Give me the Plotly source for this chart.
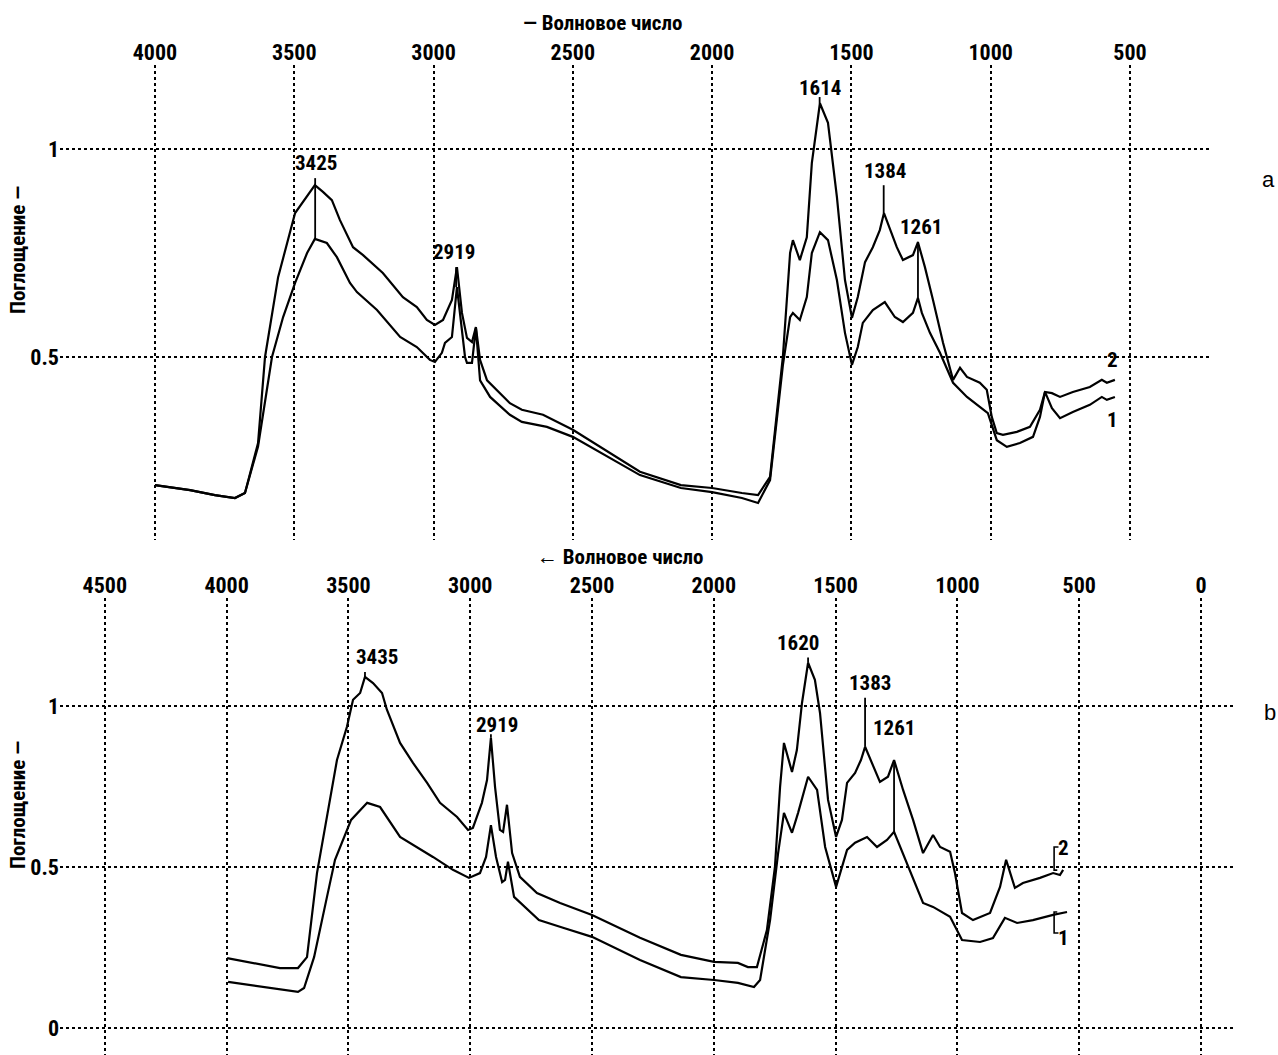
import plotly.graph_objects as go

# ---------------- data: panel a ----------------
a_wn_2 = [4000, 3874, 3785, 3713, 3677, 3630, 3605, 3558, 3497, 3426, 3397, 3365, 3336, 3289, 3253,
          3182, 3110, 3060, 3024, 2995, 2966, 2934, 2916, 2898, 2880, 2862, 2848, 2833, 2808, 2726,
          2683, 2607, 2500, 2259, 2112, 2000, 1893, 1835, 1792, 1746, 1720, 1710, 1685, 1660, 1642,
          1613, 1584, 1552, 1523, 1498, 1477, 1451, 1423, 1398, 1383, 1369, 1337, 1315, 1279, 1261,
          1236, 1207, 1171, 1135, 1110, 1085, 1039, 1014, 996, 978, 956, 906, 859, 823, 805, 780,
          751, 705, 644, 601, 583, 554]
a_abs_2 = [0.192, 0.180, 0.168, 0.161, 0.173, 0.293, 0.500, 0.692, 0.846, 0.913, 0.897, 0.877, 0.829, 0.764, 0.745,
           0.702, 0.644, 0.620, 0.589, 0.577, 0.589, 0.637, 0.716, 0.606, 0.546, 0.536, 0.572, 0.493, 0.444, 0.389,
           0.373, 0.361, 0.325, 0.224, 0.192, 0.185, 0.173, 0.168, 0.212, 0.500, 0.750, 0.781, 0.733, 0.788, 0.966,
           1.110, 1.063, 0.885, 0.685, 0.594, 0.644, 0.728, 0.764, 0.805, 0.846, 0.822, 0.764, 0.733, 0.745, 0.776,
           0.716, 0.637, 0.534, 0.445, 0.474, 0.452, 0.438, 0.421, 0.356, 0.317, 0.313, 0.320, 0.332, 0.373, 0.416, 0.413,
           0.404, 0.416, 0.428, 0.445, 0.438, 0.445]

a_wn_1 = [4000, 3874, 3785, 3713, 3677, 3630, 3580, 3540, 3497, 3454, 3426, 3383, 3347, 3300, 3275,
          3203, 3120, 3060, 3013, 2995, 2970, 2959, 2934, 2916, 2887, 2880, 2862, 2848, 2833, 2797,
          2726, 2683, 2593, 2500, 2259, 2112, 2000, 1893, 1835, 1792, 1746, 1720, 1710, 1685, 1660,
          1642, 1613, 1584, 1552, 1523, 1498, 1477, 1459, 1423, 1380, 1344, 1315, 1279, 1261, 1247,
          1218, 1182, 1135, 1085, 1039, 1010, 978, 942, 895, 848, 823, 805, 780, 751, 705, 644, 601,
          583, 554]
a_abs_1 = [0.192, 0.180, 0.168, 0.161, 0.173, 0.285, 0.500, 0.596, 0.678, 0.750, 0.784, 0.774, 0.740, 0.678, 0.656,
           0.613, 0.548, 0.524, 0.493, 0.488, 0.510, 0.534, 0.548, 0.668, 0.500, 0.486, 0.486, 0.570, 0.444, 0.404,
           0.361, 0.344, 0.332, 0.308, 0.216, 0.185, 0.175, 0.161, 0.149, 0.204, 0.480, 0.596, 0.606, 0.589, 0.644,
           0.750, 0.800, 0.781, 0.685, 0.558, 0.481, 0.524, 0.582, 0.613, 0.632, 0.596, 0.584, 0.606, 0.642, 0.606,
           0.558, 0.510, 0.438, 0.404, 0.380, 0.365, 0.300, 0.284, 0.293, 0.308, 0.356, 0.416, 0.377, 0.353, 0.368, 0.385, 0.404,
           0.397, 0.404]

a_peak_labels = ["3425", "2919", "1614", "1384", "1261"]
a_peak_wn = [3425, 2919, 1614, 1384, 1261]
a_label_x = [3422, 2927, 1614, 1380, 1250]
a_label_y = [0.966, 0.752, 1.147, 0.947, 0.813]
a_mark_top = [0.930, 0.716, 1.125, 0.913, 0.777]
a_mark_bot = [0.784, 0.668, 1.110, 0.846, 0.642]

# ---------------- data: panel b ----------------
b_wn_2 = [3998, 3892, 3781, 3707, 3670, 3629, 3588, 3547, 3506, 3481, 3452, 3432, 3399, 3362, 3342,
          3288, 3235, 3177, 3124, 3054, 3009, 2989, 2952, 2931, 2915, 2898, 2878, 2865, 2849, 2828,
          2796, 2726, 2631, 2500, 2303, 2135, 1999, 1901, 1860, 1823, 1782, 1749, 1728, 1712, 1679,
          1659, 1638, 1613, 1585, 1564, 1531, 1498, 1474, 1453, 1420, 1396, 1379, 1346, 1318,
          1285, 1260, 1223, 1182, 1141, 1100, 1071, 1030, 1010, 981, 936, 866, 825, 800, 764, 731,
          661, 607, 579, 566]
b_abs_2 = [0.217, 0.202, 0.186, 0.186, 0.220, 0.481, 0.655, 0.832, 0.935, 1.019, 1.040, 1.090, 1.071, 1.040, 0.988,
           0.885, 0.823, 0.761, 0.699, 0.655, 0.615, 0.621, 0.699, 0.770, 0.901, 0.748, 0.615, 0.609, 0.693, 0.543,
           0.469, 0.419, 0.388, 0.351, 0.280, 0.227, 0.205, 0.202, 0.189, 0.189, 0.304, 0.500, 0.748, 0.885, 0.795,
           0.863, 1.009, 1.134, 1.081, 0.978, 0.708, 0.593, 0.646, 0.761, 0.792, 0.832, 0.873, 0.811, 0.764,
           0.780, 0.832, 0.739, 0.646, 0.543, 0.599, 0.562, 0.547, 0.481, 0.357, 0.335, 0.357, 0.438, 0.522, 0.435, 0.450,
           0.466, 0.481, 0.475, 0.491]

b_wn_1 = [3994, 3842, 3707, 3682, 3641, 3588, 3555, 3489, 3423, 3370, 3288, 3153, 3071, 3005, 2960,
          2935, 2915, 2894, 2869, 2857, 2845, 2820, 2718, 2619, 2500, 2303, 2135, 1999, 1901, 1835,
          1810, 1769, 1736, 1712, 1679, 1654, 1613, 1576, 1543, 1498, 1474, 1453, 1420, 1371, 1330,
          1289, 1260, 1207, 1141, 1100, 1030, 981, 907, 854, 805, 755, 690, 607, 550]
b_abs_1 = [0.143, 0.127, 0.112, 0.124, 0.220, 0.407, 0.522, 0.646, 0.699, 0.686, 0.593, 0.531, 0.491, 0.466, 0.481,
           0.531, 0.630, 0.531, 0.453, 0.460, 0.516, 0.407, 0.335, 0.311, 0.283, 0.211, 0.158, 0.149, 0.140, 0.127,
           0.149, 0.335, 0.543, 0.668, 0.606, 0.668, 0.780, 0.739, 0.562, 0.438, 0.500, 0.553, 0.575, 0.593, 0.562,
           0.584, 0.609, 0.512, 0.388, 0.376, 0.345, 0.273, 0.267, 0.279, 0.342, 0.326, 0.335, 0.351, 0.360]

b_peak_labels = ["3435", "2919", "1620", "1383", "1261"]
b_peak_wn = [3432, 2915, 1613, 1379, 1260]
b_label_x = [3383, 2890, 1654, 1359, 1260]
b_label_y = [1.152, 0.941, 1.196, 1.071, 0.932]
b_mark_top = [1.105, 0.912, 1.150, 1.025, 0.832]
b_mark_bot = [1.090, 0.901, 1.134, 0.873, 0.609]

x_ticks_a = [4000, 3500, 3000, 2500, 2000, 1500, 1000, 500]
x_ticks_b = [4500, 4000, 3500, 3000, 2500, 2000, 1500, 1000, 500, 0]
y_ticks_a = [0.5, 1]
y_ticks_b = [0, 0.5, 1]

curve_names = ["2", "1"]
x_title_a = "— Волновое число"
x_title_b = "← Волновое число"
y_title = "Поглощение —"

# ---------------- figure ----------------
W, H = 1278, 1055
NARROW = "Liberation Sans Narrow, Arial Narrow, Roboto Condensed, Liberation Sans, sans-serif"
LINE = dict(color="black", width=2.2)

fig = go.Figure()
fig.add_trace(go.Scatter(x=a_wn_2, y=a_abs_2, mode="lines", line=LINE, xaxis="x", yaxis="y", name="2"))
fig.add_trace(go.Scatter(x=a_wn_1, y=a_abs_1, mode="lines", line=LINE, xaxis="x", yaxis="y", name="1"))
fig.add_trace(go.Scatter(x=b_wn_2, y=b_abs_2, mode="lines", line=LINE, xaxis="x2", yaxis="y2", name="2"))
fig.add_trace(go.Scatter(x=b_wn_1, y=b_abs_1, mode="lines", line=LINE, xaxis="x2", yaxis="y2", name="1"))

# peak marker lines
for wn, t, b in zip(a_peak_wn, a_mark_top, a_mark_bot):
    fig.add_trace(go.Scatter(x=[wn, wn], y=[b, t], mode="lines", line=dict(color="black", width=1.8),
                             xaxis="x", yaxis="y", hoverinfo="skip"))
for wn, t, b in zip(b_peak_wn, b_mark_top, b_mark_bot):
    fig.add_trace(go.Scatter(x=[wn, wn], y=[b, t], mode="lines", line=dict(color="black", width=1.8),
                             xaxis="x2", yaxis="y2", hoverinfo="skip"))

# curve brackets in panel b
fig.add_trace(go.Scatter(x=[590, 603, 603, 585], y=[0.49, 0.49, 0.562, 0.562], mode="lines",
                         line=dict(color="black", width=1.6), xaxis="x2", yaxis="y2", hoverinfo="skip"))
fig.add_trace(go.Scatter(x=[590, 603, 603, 585], y=[0.36, 0.36, 0.295, 0.295], mode="lines",
                         line=dict(color="black", width=1.6), xaxis="x2", yaxis="y2", hoverinfo="skip"))

ann = []
lab_font = dict(family=NARROW, size=21, color="black", weight="bold")
tick_font = dict(family=NARROW, size=22, color="black", weight="bold")
for t, x, y in zip(a_peak_labels, a_label_x, a_label_y):
    ann.append(dict(x=x, y=y, xref="x", yref="y", text=t, showarrow=False, font=lab_font))
for t, x, y in zip(b_peak_labels, b_label_x, b_label_y):
    ann.append(dict(x=x, y=y, xref="x2", yref="y2", text=t, showarrow=False, font=lab_font))

# curve numbers
ann.append(dict(x=561, y=0.493, xref="x", yref="y", text=curve_names[0], showarrow=False, font=lab_font))
ann.append(dict(x=561, y=0.349, xref="x", yref="y", text=curve_names[1], showarrow=False, font=lab_font))
ann.append(dict(x=566, y=0.560, xref="x2", yref="y2", text=curve_names[0], showarrow=False, font=lab_font))
ann.append(dict(x=566, y=0.280, xref="x2", yref="y2", text=curve_names[1], showarrow=False, font=lab_font))

# titles (paper positions, centred)
C = dict(xanchor="center", yanchor="middle", showarrow=False, xref="paper", yref="paper")
ann.append(dict(x=602 / W, y=1 - 23 / H, text=x_title_a, font=lab_font, **C))
ann.append(dict(x=620 / W, y=1 - 557 / H, text=x_title_b, font=lab_font, **C))
ann.append(dict(x=18 / W, y=1 - 250 / H, text=y_title, textangle=-90, font=lab_font, **C))
ann.append(dict(x=18 / W, y=1 - 805 / H, text=y_title, textangle=-90, font=lab_font, **C))
ann.append(dict(x=1268 / W, y=1 - 180 / H, text="a",
                font=dict(family="Liberation Sans, Arial, sans-serif", size=22, color="black"), **C))
ann.append(dict(x=1270 / W, y=1 - 712 / H, text="b",
                font=dict(family="Liberation Sans, Arial, sans-serif", size=22, color="black"), **C))

axis_common = dict(showgrid=True, gridcolor="black", griddash="dot", gridwidth=1.6,
                   zeroline=False, showline=False, ticks="", tickfont=tick_font)

fig.update_layout(
    width=W, height=H, margin=dict(l=0, r=0, t=0, b=0),
    paper_bgcolor="white", plot_bgcolor="white", showlegend=False,
    annotations=ann,
    xaxis=dict(domain=[60 / W, 1211 / W], range=[4341, 209], side="top", anchor="y",
               tickvals=x_ticks_a, ticktext=[str(v) for v in x_ticks_a], **axis_common),
    yaxis=dict(domain=[1 - 540 / H, 1 - 65 / H], range=[0.060, 1.202], anchor="x",
               tickvals=y_ticks_a, ticktext=["0.5", "1"], **axis_common),
    xaxis2=dict(domain=[60 / W, 1234 / W], range=[4684, -135.5], side="top", anchor="y2",
                tickvals=x_ticks_b, ticktext=[str(v) for v in x_ticks_b], **axis_common),
    yaxis2=dict(domain=[0, 1 - 598 / H], range=[-0.0839, 1.335], anchor="x2",
                tickvals=y_ticks_b, ticktext=["0", "0.5", "1"], **axis_common),
)

fig.write_html("out.html", config={"displayModeBar": False},
               post_script="document.body.style.margin='0px';document.body.style.overflow='hidden';")
